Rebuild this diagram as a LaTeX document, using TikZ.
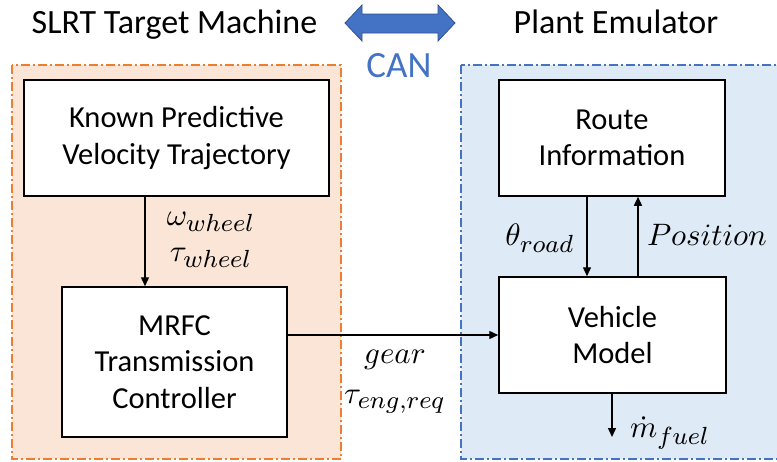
\documentclass[tikz,border=0pt]{standalone}
\usepackage{fontspec}
\setmainfont{Carlito}
\DeclareMathSizes{10}{10}{7.6}{6}
\usetikzlibrary{arrows.meta}
\definecolor{orfill}{HTML}{FBE5D6}
\definecolor{ordraw}{HTML}{ED7D31}
\definecolor{blfill}{HTML}{DEEBF7}
\definecolor{bldraw}{HTML}{4472C4}
\definecolor{canblue}{HTML}{4472C4}
\definecolor{canedge}{HTML}{2F528F}
\newcommand{\biglab}[1]{\scalebox{3.1}{\fontsize{10}{12}\selectfont$#1$}}
\tikzset{
  block/.style={draw=black, line width=1.5pt, fill=white, align=center, inner sep=0pt,
    font=\fontsize{30.5}{36.5}\selectfont},
  region/.style={line width=1.5pt, dash pattern=on 9pt off 3pt on 2pt off 3pt},
  sig/.style={line width=1.4pt, -{Triangle[length=9pt,width=8pt]}},
  lbl/.style={inner sep=0pt},
  ttl/.style={font=\fontsize{34}{40}\selectfont, inner sep=0pt, anchor=base},
}
\begin{document}
\begin{tikzpicture}[x=1pt,y=-1pt]
\useasboundingbox (0,0) rectangle (777,461);
\clip (0,0) rectangle (777,461);
% regions
\path[region, fill=orfill, draw=ordraw] (12,65) rectangle (341,459);
\path[region, fill=blfill, draw=bldraw] (461,65) rectangle (800,459);
% titles
\node[ttl] (t1) at (174.5,33) {SLRT Target Machine};
\node[ttl] (t2) at (616,33) {Plant Emulator};
\node[ttl, font=\fontsize{37}{44}\selectfont, text=canblue] (can) at (399,77) {CAN};
% CAN double arrow
\filldraw[fill=canblue, draw=canedge, line width=0.8pt]
  (345,23) -- (362,5) -- (362,14) -- (438,14) -- (438,5) -- (455,23)
  -- (438,41) -- (438,33) -- (362,33) -- (362,41) -- cycle;
% blocks
\node[block, minimum width=305pt, minimum height=116pt] (kp) at (176.5,138) {Known Predictive\\Velocity Trajectory};
\node[block, minimum width=225pt, minimum height=150pt] (mrfc) at (174.5,362) {MRFC\\Transmission\\Controller};
\node[block, minimum width=226pt, minimum height=116pt] (route) at (612,138) {Route\\Information};
\node[block, minimum width=227pt, minimum height=116pt] (veh) at (612.5,335) {Vehicle\\Model};
% helper coordinates
\coordinate (a) at (145,0);
\coordinate (b) at (587,0);
\coordinate (c) at (638,0);
\coordinate (fuel) at (612,437);
% connectors
\draw[sig] (kp.south -| a) -- (mrfc.north -| a);
\draw[sig] (mrfc.east |- veh.west) -- (veh.west);
\draw[sig] (route.south -| b) -- (veh.north -| b);
\draw[sig] (veh.north -| c) -- (route.south -| c);
\draw[sig] (veh.south -| fuel) -- (fuel);
% labels
\node[lbl] (lw) at (211,222) {\biglab{\omega_{wheel}}};
\node[lbl] (lt) at (211,258) {\biglab{\tau_{wheel}}};
\node[lbl] (lg) at (395,360) {\biglab{gear}};
\node[lbl] (le) at (395,402) {\biglab{\tau_{eng,req}}};
\node[lbl] (lr) at (540,238) {\biglab{\theta_{road}}};
\node[lbl] (lp) at (707,235) {\biglab{Position}};
\node[lbl] (lf) at (670,433) {\biglab{\dot{m}_{fuel}}};
\end{tikzpicture}
\end{document}
